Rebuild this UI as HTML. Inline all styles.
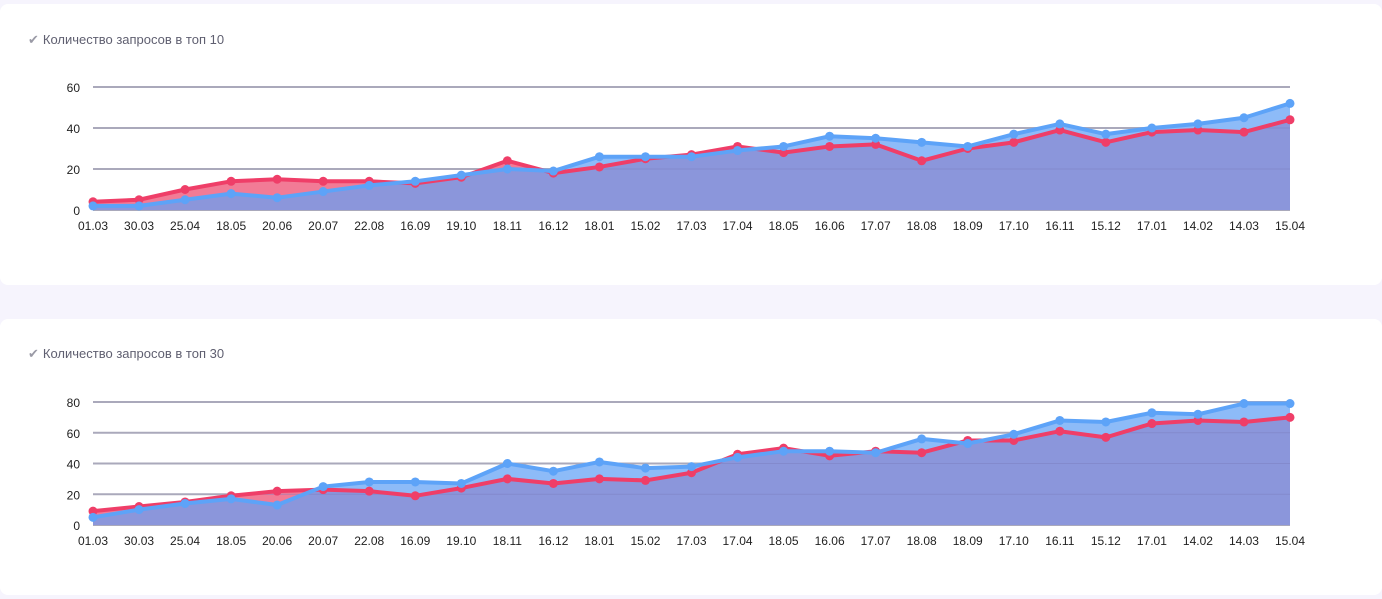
<!DOCTYPE html>
<html><head><meta charset="utf-8"><style>
body{margin:0;width:1382px;height:599px;background:#f6f4fd;position:relative;overflow:hidden;font-family:"Liberation Sans",sans-serif}
.card{position:absolute;left:0;width:1382px;background:#fff;border-radius:8px}
.title{position:absolute;left:28px;font-size:13px;color:#5f5f70}
.title span{color:#9a9aa6;margin-right:4px}
svg{position:absolute;left:0;top:0}
</style></head><body>
<div class="card" style="top:4px;height:281px"></div>
<div class="card" style="top:319px;height:276px"></div>
<div class="title" style="top:32px"><span>✔</span>Количество запросов в топ 10</div>
<div class="title" style="top:346px"><span>✔</span>Количество запросов в топ 30</div>
<svg id="s" width="1382" height="599"></svg>
<script>
const categories=["01.03","30.03","25.04","18.05","20.06","20.07","22.08","16.09","19.10","18.11","16.12","18.01","15.02","17.03","17.04","18.05","16.06","17.07","18.08","18.09","17.10","16.11","15.12","17.01","14.02","14.03","15.04"];
const top10Red=[4,5,10,14,15,14,14,13,16,24,18,21,25,27,31,28,31,32,24,30,33,39,33,38,39,38,44];
const top10Blue=[2,2,5,8,6,9,12,14,17,20,19,26,26,26,29,31,36,35,33,31,37,42,37,40,42,45,52];
const top10Ticks=[0,20,40,60];
const top30Red=[9,12,15,19,22,23,22,19,24,30,27,30,29,34,46,50,45,48,47,55,55,61,57,66,68,67,70];
const top30Blue=[5,10,14,17,13,25,28,28,27,40,35,41,37,38,44,48,48,47,56,53,59,68,67,73,72,79,79];
const top30Ticks=[0,20,40,60,80];
const NS="http://www.w3.org/2000/svg";
const svg=document.getElementById('s');
function mk(t,a,p){const e=document.createElementNS(NS,t);for(const k in a)e.setAttribute(k,a[k]);(p||svg).appendChild(e);return e;}
function chart(id,red,blue,ticks,y0,ymaxPx,max){
  const x0=93,x1=1290;
  const X=i=>x0+i*(x1-x0)/(categories.length-1);
  const Y=v=>y0-v/max*(y0-ymaxPx);
  const g=mk('g',{});
  
  
  ticks.forEach(t=>{
    const l=mk('line',{x1:x0,x2:x1,y1:Y(t),y2:Y(t),stroke:'#aaa9bb','stroke-width':2},g);
    
    
    const tx=mk('text',{x:80,y:Y(t)+5,'text-anchor':'end','font-size':12,fill:'#222'},g);
    
    
    tx.textContent=t;
  });
  categories.forEach((c,i)=>{
    const tx=mk('text',{x:X(i),y:y0+20,'text-anchor':'middle','font-size':12,fill:'#222'},g);
    
    
    tx.textContent=c;
  });
  const area=v=>'M'+X(0)+','+y0+v.map((d,i)=>'L'+X(i)+','+Y(d)).join('')+'L'+X(v.length-1)+','+y0+'Z';
  const line=v=>v.map((d,i)=>(i?'L':'M')+X(i)+','+Y(d)).join('');
  const cp=mk('clipPath',{id:id+'clip'},g);mk('path',{d:area(red)},cp);
  const ra=mk('path',{d:area(red),fill:'#f27b96'},g);
  
  const ba=mk('path',{d:area(blue),fill:'#8dbbf8'},g);
  
  mk('path',{d:area(blue),fill:'#8b96db','clip-path':'url(#'+id+'clip)'},g);
  ticks.slice(1).forEach(t=>mk('line',{x1:x0,x2:x1,y1:Y(t),y2:Y(t),stroke:'#7c7fc0','stroke-width':1,opacity:0.5,'clip-path':'url(#'+id+'clip)'},g));
  [[red,'#ef3e68','red'],[blue,'#5da3f8','blue']].forEach(([v,c,n])=>{
    const p=mk('path',{d:line(v),fill:'none',stroke:c,'stroke-width':4,'stroke-linejoin':'round'},g);
    
    v.forEach((d,i)=>{const ci=mk('circle',{cx:X(i),cy:Y(d),r:4.5,fill:c},g);
      });
  });
}
chart('top10',top10Red,top10Blue,top10Ticks,210,87,60);
chart('top30',top30Red,top30Blue,top30Ticks,525,402,80);
</script>
</body></html>
